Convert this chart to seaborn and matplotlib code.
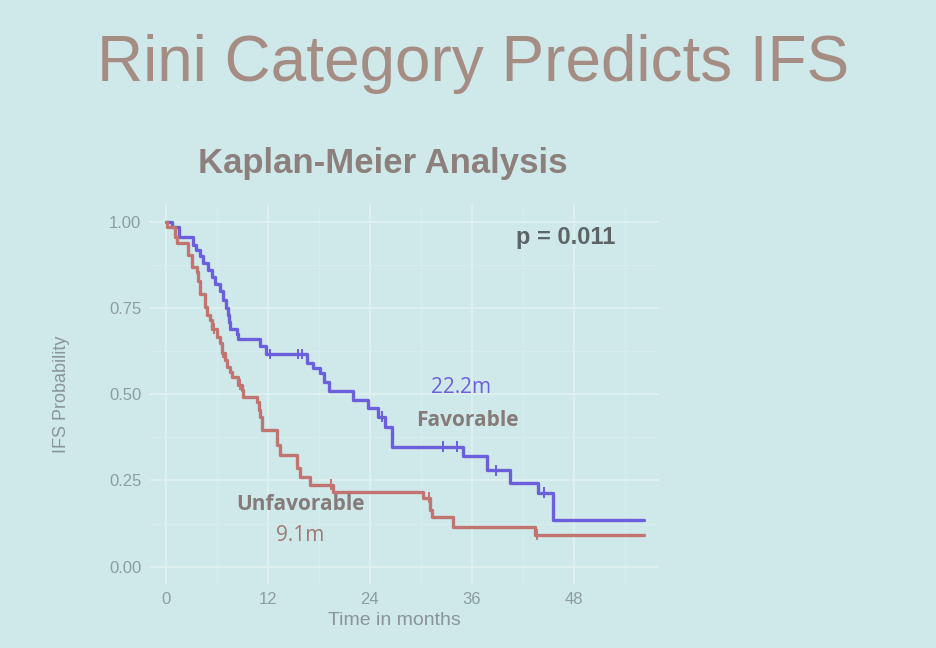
import seaborn as sns
import matplotlib.pyplot as plt
import pandas as pd

# Kaplan-Meier step data
fav_time = [0, 0.7, 1.5, 3.2, 3.5, 4.0, 4.4, 4.9, 5.4, 5.8, 6.4, 6.7, 7.1, 7.3, 7.4, 7.5,
            8.4, 8.5, 11.1, 11.8, 16.6, 17.3, 18.1, 18.6, 19.2, 22.0, 23.8, 24.9, 25.8,
            26.6, 34.9, 37.8, 40.5, 43.8, 45.5, 56.3]
fav_surv = [1.00, 0.985, 0.957, 0.933, 0.92, 0.90, 0.88, 0.86, 0.84, 0.82, 0.80, 0.775,
            0.75, 0.73, 0.71, 0.69, 0.675, 0.66, 0.64, 0.617, 0.59, 0.575, 0.562, 0.536,
            0.51, 0.484, 0.46, 0.435, 0.406, 0.348, 0.32, 0.28, 0.243, 0.214, 0.136, 0.136]
fav_cens_time = [12.2, 15.5, 16.0, 25.4, 32.6, 34.2, 38.8, 44.5]
fav_cens_surv = [0.617, 0.617, 0.617, 0.435, 0.348, 0.348, 0.28, 0.214]

unf_time = [0, 0.1, 1.1, 1.3, 2.6, 3.1, 3.6, 3.8, 4.0, 4.6, 4.8, 5.2, 5.4, 6.0, 6.4, 6.6,
            6.9, 7.2, 7.5, 7.8, 8.5, 8.9, 9.1, 10.7, 10.9, 11.1, 11.3, 13.1, 13.4, 15.4,
            15.8, 16.9, 19.6, 30.2, 31.1, 31.3, 33.8, 43.4, 56.3]
unf_surv = [1.00, 0.985, 0.957, 0.94, 0.904, 0.87, 0.855, 0.83, 0.79, 0.754, 0.73, 0.716,
            0.69, 0.667, 0.65, 0.62, 0.60, 0.58, 0.565, 0.55, 0.528, 0.513, 0.493, 0.478,
            0.455, 0.435, 0.397, 0.354, 0.325, 0.287, 0.261, 0.238, 0.217, 0.20, 0.165,
            0.145, 0.116, 0.093, 0.093]
unf_cens_time = [5.6, 6.7, 8.7, 19.4, 31.0, 43.6]
unf_cens_surv = [0.69, 0.62, 0.528, 0.238, 0.20, 0.093]

x_ticks = [0, 12, 24, 36, 48]
y_ticks = [0.00, 0.25, 0.50, 0.75, 1.00]

fav_color = "#6b5fdc"
unf_color = "#c27570"
bg = "#cfe9ea"
tick_grey = "#8b9d9f"

sns.set_theme(style="whitegrid")
plt.rcParams["font.family"] = ["Liberation Sans", "DejaVu Sans"]

fig = plt.figure(figsize=(9.36, 6.48), dpi=100, facecolor=bg)
ax = fig.add_axes([0.160, 0.099, 0.544, 0.585])
ax.set_facecolor(bg)

curves = pd.concat([
    pd.DataFrame({"time": fav_time, "surv": fav_surv, "group": "Favorable"}),
    pd.DataFrame({"time": unf_time, "surv": unf_surv, "group": "Unfavorable"}),
])
cens = pd.concat([
    pd.DataFrame({"time": fav_cens_time, "surv": fav_cens_surv, "group": "Favorable"}),
    pd.DataFrame({"time": unf_cens_time, "surv": unf_cens_surv, "group": "Unfavorable"}),
])
pal = {"Favorable": fav_color, "Unfavorable": unf_color}

sns.lineplot(data=curves, x="time", y="surv", hue="group", palette=pal,
             drawstyle="steps-post", linewidth=2.4, legend=False, ax=ax)
sns.scatterplot(data=cens, x="time", y="surv", hue="group", palette=pal,
                marker="|", s=60, linewidth=1.4, legend=False, ax=ax)

ax.set_xlim(-1.9, 58)
ax.set_ylim(-0.05, 1.05)
ax.set_xticks(x_ticks)
ax.set_yticks(y_ticks)
ax.set_yticklabels([f"{v:.2f}" for v in y_ticks])
ax.set_xticks([6, 18, 30, 42, 54], minor=True)
ax.set_yticks([0.125, 0.375, 0.625, 0.875], minor=True)
ax.grid(which="major", color="#e2f1f1", linewidth=1.1)
ax.grid(which="minor", color="#d8eded", linewidth=0.7)
for s in ax.spines.values():
    s.set_visible(False)
ax.tick_params(axis="both", which="major", length=4, width=1, color=tick_grey,
               labelcolor=tick_grey, labelsize=12, pad=2)
ax.tick_params(which="minor", length=0)
ax.set_xlabel("Time in months", color="#8a9597", fontsize=14, labelpad=2)
ax.xaxis.set_label_coords(0.48, -0.075)
ax.set_ylabel("IFS Probability", color="#8a9597", fontsize=13, labelpad=28)

ax.text(47.0, 0.955, "p = 0.011", color="#5c6466", fontsize=17, fontweight="bold",
        ha="center", va="center")
ax.text(34.7, 0.52, "22.2m", color=fav_color, fontsize=15, ha="center", va="center",
        family=["Open Sans", "DejaVu Sans"])
ax.text(35.5, 0.425, "Favorable", color="#857b78", fontsize=15, fontweight="bold",
        ha="center", va="center", family=["Open Sans", "DejaVu Sans"])
ax.text(15.8, 0.18, "Unfavorable", color="#857b78", fontsize=15, fontweight="bold",
        ha="center", va="center", family=["Open Sans", "DejaVu Sans"])
ax.text(15.8, 0.09, "9.1m", color="#a07a72", fontsize=15, ha="center", va="center",
        family=["Open Sans", "DejaVu Sans"])

fig.text(0.505, 0.902, "Rini Category Predicts IFS", color="#a58d84", fontsize=46,
         ha="center", va="center")
fig.text(0.409, 0.748, "Kaplan-Meier Analysis", color="#8d7f7b", fontsize=25,
         fontweight="bold", ha="center", va="center")

fig.savefig("out.png", dpi=100, facecolor=bg)
